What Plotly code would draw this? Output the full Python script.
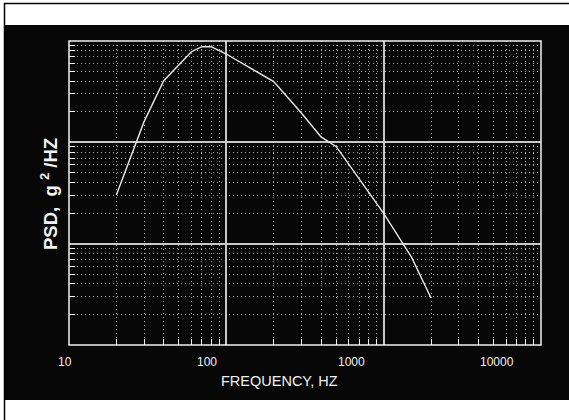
import math
import plotly.graph_objects as go

# ---- data ----
freq_hz = [20, 30, 40, 60, 70, 80, 100, 200, 300, 400, 500, 1000, 1500, 2000]
psd_g2hz = [0.0302, 0.160, 0.406, 0.784, 0.879, 0.879, 0.744, 0.397, 0.195,
            0.113, 0.0906, 0.0199, 0.0074, 0.00291]
x_tick_vals = [10, 100, 1000, 10000]
x_tick_text = ["10", "100", "1000", "10000"]
x_tick_shift = [-4, -19, -32, -44]   # label offsets seen in the original plot

W, H = 569, 420
L, R, T, B = 69, 28, 41, 75
PW, PH = W - L - R, H - T - B

def px(x):
    return (x - L) / PW

def py(y):
    return (H - B - y) / PH

FG = "#f2f2f2"
BG = "#070707"
FONT = "Liberation Sans, Arial, sans-serif"

fig = go.Figure()
fig.add_trace(go.Scatter(x=freq_hz, y=psd_g2hz, mode="lines",
                         line=dict(color="#e8e8e8", width=1.4),
                         hoverinfo="skip", showlegend=False))

axis_common = dict(
    type="log", showline=False, zeroline=False, showticklabels=False,
    ticks="", dtick=1,
    showgrid=True, gridcolor="#c8c8c8", gridwidth=1.6,
    minor=dict(dtick="D1", ticks="inside", ticklen=6, tickcolor=FG, tickwidth=1.2,
               showgrid=True, gridcolor="#a8a8a8", gridwidth=1.1,
               griddash="1.3px,2.7px"),
)
fig.update_xaxes(range=[1, 4], **axis_common)
fig.update_yaxes(range=[-3, 0], **axis_common)

shapes = [
    # black panel
    dict(type="rect", xref="paper", yref="paper", x0=px(5), x1=px(W + 2),
         y0=py(400), y1=py(25), fillcolor=BG, line=dict(width=0), layer="below"),
    # outer thin frame lines
    dict(type="line", xref="paper", yref="paper", x0=px(4), x1=px(W + 2),
         y0=py(3.5), y1=py(3.5), line=dict(color="black", width=1.5), layer="below"),
    dict(type="line", xref="paper", yref="paper", x0=px(4.5), x1=px(4.5),
         y0=py(3), y1=py(H + 2), line=dict(color="black", width=1.5), layer="below"),
    # plot border
    dict(type="rect", xref="paper", yref="paper", x0=0, x1=1, y0=0, y1=1,
         line=dict(color=FG, width=1.5), layer="above"),
]

annotations = []
for v, t, s in zip(x_tick_vals, x_tick_text, x_tick_shift):
    annotations.append(dict(x=math.log10(v), xref="x", y=py(361.5), yref="paper",
                            text=t, showarrow=False, xshift=s,
                            xanchor="center", yanchor="middle",
                            font=dict(family=FONT, size=12, color=FG)))
annotations.append(dict(x=px(279), y=py(381), xref="paper", yref="paper",
                        text="FREQUENCY, HZ", showarrow=False,
                        xanchor="center", yanchor="middle",
                        font=dict(family=FONT, size=14.5, color=FG)))
annotations.append(dict(x=px(49), y=py(194), xref="paper", yref="paper",
                        text="<b>PSD,  g <sup>2</sup> /HZ</b>", showarrow=False,
                        textangle=-90, xanchor="center", yanchor="middle",
                        font=dict(family=FONT, size=18.5, color=FG)))

fig.update_layout(
    width=W, height=H,
    margin=dict(l=L, r=R, t=T, b=B, pad=0),
    paper_bgcolor="white", plot_bgcolor=BG,
    shapes=shapes, annotations=annotations,
    showlegend=False,
)

fig.write_html("out.html",
               config={"displayModeBar": False},
               post_script="document.body.style.margin='0';"
                           "document.body.style.overflow='hidden';")
